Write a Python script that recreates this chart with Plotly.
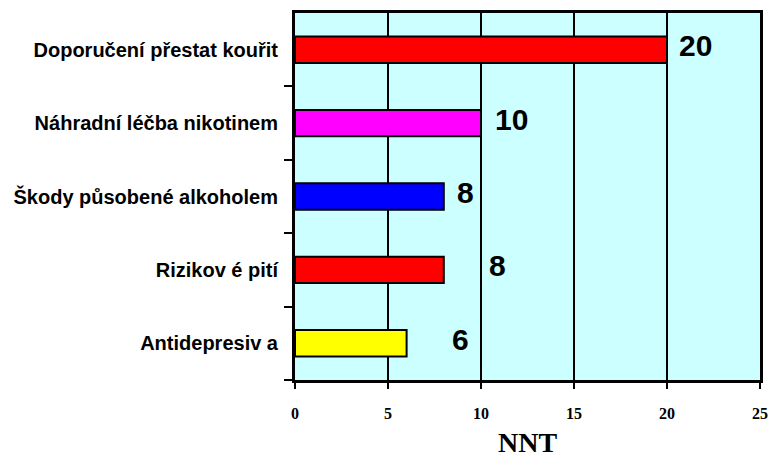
import plotly.graph_objects as go

categories = ["Doporučení přestat kouřit", "Náhradní léčba nikotinem",
              "Škody působené alkoholem", "Rizikov é pití", "Antidepresiv a"]
values = [20, 10, 8, 8, 6]
colors = ["#FF0000", "#FF00FF", "#0000FF", "#FF0000", "#FFFF00"]
label_shift = [10, 12, 11, 43, 43]
x_ticks = [0, 5, 10, 15, 20, 25]

fig = go.Figure()
fig.add_trace(go.Bar(
    y=categories, x=values, orientation="h",
    marker=dict(color=colors, line=dict(color="black", width=2)),
    width=0.36, hoverinfo="skip",
))

for c, v, s in zip(categories, values, label_shift):
    fig.add_annotation(x=v, y=c, text="<b>%d</b>" % v, showarrow=False,
                       xanchor="left", yanchor="middle", xshift=s, yshift=4,
                       font=dict(family="Liberation Sans", size=30, color="black"))

fig.update_layout(
    width=772, height=459,
    margin=dict(l=295, r=12, t=13, b=79),
    paper_bgcolor="white", plot_bgcolor="#CCFFFF",
    showlegend=False,
    font=dict(family="Liberation Sans", color="black"),
    xaxis=dict(range=[0, 25], tickvals=x_ticks, automargin=False,
               ticktext=["<b>%d</b>" % t for t in x_ticks],
               ticks="outside", ticklen=6, tickwidth=2, tickcolor="black",
               ticklabelstandoff=11,
               showgrid=True, gridcolor="black", gridwidth=2, zeroline=False,
               showline=True, linecolor="black", linewidth=3, mirror=True,
               tickfont=dict(family="Liberation Serif", size=16, color="black"),
               title=dict(text="<b>NNT</b>", standoff=12,
                          font=dict(family="Liberation Serif", size=28, color="black"))),
    yaxis=dict(categoryorder="array", categoryarray=categories[::-1], automargin=False,
               tickvals=categories, ticktext=["<b>%s</b>" % c for c in categories],
               tickson="boundaries", ticks="outside", ticklen=8, tickwidth=2,
               tickcolor="black", showgrid=False, zeroline=False,
               showline=True, linecolor="black", linewidth=3, mirror=True,
               ticklabelstandoff=10,
               tickfont=dict(family="Liberation Sans", size=20, color="black")),
)
fig.write_html("out.html", config={"displayModeBar": False},
               post_script="document.body.style.margin='0';")
